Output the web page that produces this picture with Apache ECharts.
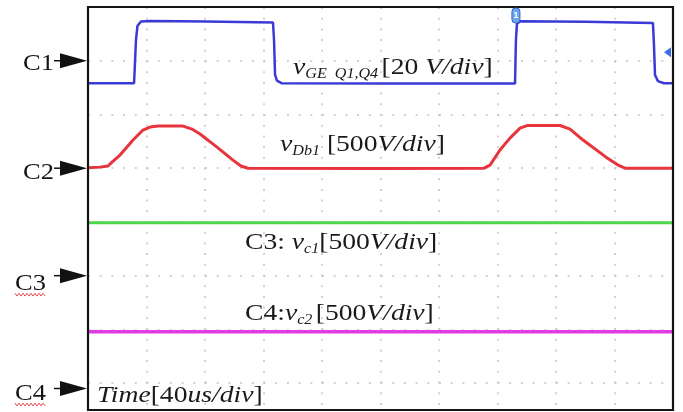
<!DOCTYPE html>
<html>
<head>
<meta charset="utf-8">
<script src="https://cdn.jsdelivr.net/npm/echarts@6/dist/echarts.min.js"></script>
<style>
  html, body { margin: 0; padding: 0; background: #fff; }
  #c { width: 683px; height: 412px; }
</style>
</head>
<body>
<div id="c"></div>
<script>
// Time base: 40 us per division, 10 divisions across the screen
const timeTicks = [0, 40, 80, 120, 160, 200, 240, 280, 320, 360, 400];

// C1: gate-emitter voltage of Q1/Q4 (V), 20 V/div
const c1Time = [0, 31.5, 32.8, 33.8, 36.2, 42.4, 80, 126.5, 127.2, 127.9, 129.2, 132.6, 200, 292, 292.6, 293.3, 295.4, 340, 386.3, 387, 387.7, 389.7, 393.8, 400];
const c1Volt = [-8.4, -8.4, 7.7, 12.9, 14.6, 14.8, 14.6, 14.2, 7.7, -5.3, -7.4, -8.4, -8.5, -8.5, 7.7, 13.7, 14.7, 14.5, 14.0, 5.8, -5.3, -7.6, -8.4, -8.4];

// C2: diode Db1 voltage (V), 500 V/div
const c2Time = [0, 8.2, 13.7, 16.4, 21.9, 30.8, 37.6, 42.4, 47.9, 65, 71.1, 76.6, 88.2, 99.1, 104.6, 109.4, 200, 270.8, 274.9, 281.7, 288.5, 295.4, 300.2, 322.8, 329.6, 338.5, 354.2, 362.4, 367.2, 400];
const c2Volt = [5, 10, 20, 57, 122, 262, 355, 383, 392, 392, 364, 318, 196, 75, 20, 0, -3, 0, 29, 169, 280, 373, 397, 397, 364, 262, 103, 29, 0, 0];

// C3: capacitor voltage vc1 (V), 500 V/div
const c3Time = [0, 400];
const c3Volt = [492, 492];

// C4: capacitor voltage vc2 (V), 500 V/div
const c4Time = [0, 400];
const c4Volt = [527, 527];

// Trigger level on C1 (V)
const triggerLevel = 3.2;

const SERIF = '"Liberation Serif", "Times New Roman", serif';
const VISIBLE_DIV = 7.5;   // divisions shown vertically (screen is cut at the bottom)
const GRID = { left: 88, top: 7, width: 585, height: 403 };
const TEXT_STRETCH = 1.15; // scope print is slightly wider than tall

const channels = [
  { name: 'C1', time: c1Time, volt: c1Volt, vPerDiv: 20,  refDiv: 1,   color: '#3a3ad6', width: 2.5, tagX: 23, tagDy: 3, squiggle: false },
  { name: 'C2', time: c2Time, volt: c2Volt, vPerDiv: 500, refDiv: 3,   color: '#e8343c', width: 3,   tagX: 23, tagDy: 5, squiggle: false },
  { name: 'C3', time: c3Time, volt: c3Volt, vPerDiv: 500, refDiv: 5,   color: '#4fd64a', width: 3,   tagX: 15, tagDy: 8, squiggle: true },
  { name: 'C4', time: c4Time, volt: c4Volt, vPerDiv: 500, refDiv: 7.1, color: '#e03ce4', width: 3.5, tagX: 15, tagDy: 5, squiggle: true }
];

const dotted = (h) => ({ show: true, lineStyle: { color: '#c4c4c4', width: 1.5, type: h ? [2, 9.7] : [2, 8.7] } });

const chart = echarts.init(document.getElementById('c'), null, { renderer: 'canvas' });

const option = {
  animation: false,
  backgroundColor: '#ffffff',
  grid: Object.assign({ show: false }, GRID),
  xAxis: {
    type: 'value', min: timeTicks[0], max: timeTicks[timeTicks.length - 1], interval: timeTicks[1] - timeTicks[0],
    axisLine: { show: false }, axisTick: { show: false }, axisLabel: { show: false },
    splitLine: dotted(false)
  },
  yAxis: [
    // screen divisions, counted from the top
    {
      type: 'value', inverse: true, min: 0, max: VISIBLE_DIV, interval: 1,
      axisLine: { show: false }, axisTick: { show: false }, axisLabel: { show: false },
      splitLine: dotted(true)
    }
  ].concat(channels.map(ch => ({
    type: 'value', show: false,
    min: (ch.refDiv - VISIBLE_DIV) * ch.vPerDiv,
    max: ch.refDiv * ch.vPerDiv
  }))),
  series: channels.map((ch, k) => ({
    name: ch.name,
    type: 'line',
    xAxisIndex: 0,
    yAxisIndex: k + 1,
    showSymbol: false,
    smooth: false,
    data: ch.time.map((t, i) => [t, ch.volt[i]]),
    lineStyle: { color: ch.color, width: ch.width },
    z: 3
  }))
};

chart.setOption(option);

const g = [];

// screen frame
g.push({ type: 'rect', shape: { x: GRID.left, y: GRID.top, width: GRID.width, height: GRID.height }, style: { fill: null, stroke: '#151515', lineWidth: 2.2 }, z: 9 });

// channel reference markers
channels.forEach((ch, k) => {
  const y = chart.convertToPixel({ yAxisIndex: k + 1 }, 0);
  g.push({ type: 'line', shape: { x1: 54, y1: y, x2: 63, y2: y }, style: { stroke: '#111', lineWidth: 1.5 }, z: 10 });
  g.push({ type: 'polygon', shape: { points: [[60, y - 7.5], [87, y], [60, y + 7.5]] }, style: { fill: '#111' }, z: 10 });
  g.push({ type: 'text', x: ch.tagX, y: y + ch.tagDy, scaleX: TEXT_STRETCH, style: { text: ch.name, font: '23px ' + SERIF, fill: '#151515', verticalAlign: 'middle', align: 'left' }, z: 10 });
  if (ch.squiggle) {
    const pts = [];
    const yy = y + ch.tagDy + 11;
    for (let i = 0, x = ch.tagX; x <= ch.tagX + 30; i++, x += 2) pts.push([x, yy + (i % 2 ? 1.4 : -1.4)]);
    g.push({ type: 'polyline', shape: { points: pts }, style: { stroke: '#e0474c', lineWidth: 1, fill: null }, z: 10 });
  }
});

// trigger point tag on the second C1 rising edge
const trigX = chart.convertToPixel({ xAxisIndex: 0 }, c1Time[14]);
g.push({ type: 'rect', shape: { x: trigX - 4, y: 8, width: 8, height: 15, r: 3.5 }, style: { fill: '#6ea8ea', stroke: '#2f62d4', lineWidth: 1 }, z: 12 });
g.push({ type: 'text', x: trigX, y: 15.5, style: { text: '1', font: 'bold 9px sans-serif', fill: '#ffffff', align: 'center', verticalAlign: 'middle' }, z: 13 });

// trigger level arrow on the right edge
const tlY = chart.convertToPixel({ yAxisIndex: 1 }, triggerLevel);
g.push({ type: 'polygon', shape: { points: [[664, tlY], [671, tlY - 5], [671, tlY + 5]] }, style: { fill: '#3b6fe0' }, z: 12 });

// trace annotations
const rich = {
  v: { fontFamily: SERIF, fontStyle: 'italic', fontSize: 24, lineHeight: 26, fill: '#1a1a1a' },
  s: { fontFamily: SERIF, fontStyle: 'italic', fontSize: 14, lineHeight: 12, verticalAlign: 'bottom', fill: '#1a1a1a' },
  w: { fontFamily: SERIF, fontStyle: 'italic', fontSize: 14, lineHeight: 12, verticalAlign: 'bottom', fill: '#1a1a1a', padding: [0, 3, 0, 0] },
  n: { fontFamily: SERIF, fontSize: 24, lineHeight: 26, fill: '#1a1a1a' },
  i: { fontFamily: SERIF, fontStyle: 'italic', fontSize: 24, lineHeight: 26, fill: '#1a1a1a' }
};

const notes = [
  { text: '{v|v}{w|GE  Q1,Q4}{n|[20 }{i|V/div}{n|]}', x: 293, y: 68 },
  { text: '{v|v}{s|Db1}{n| [500}{i|V/div}{n|]}', x: 280, y: 145 },
  { text: '{n|C3: }{v|v}{s|c1}{n|[500}{i|V/div}{n|]}', x: 245, y: 243 },
  { text: '{n|C4:}{v|v}{w|c2}{n|[500}{i|V/div}{n|]}', x: 245, y: 314 },
  { text: '{i|Time}{n|[40}{i|us/div}{n|]}', x: 97, y: 396 }
];
notes.forEach(n => {
  g.push({ type: 'text', x: n.x, y: n.y, scaleX: TEXT_STRETCH, style: { text: n.text, rich: rich, align: 'left', verticalAlign: 'middle' }, z: 11 });
});

chart.setOption({ graphic: g });
</script>
</body>
</html>
